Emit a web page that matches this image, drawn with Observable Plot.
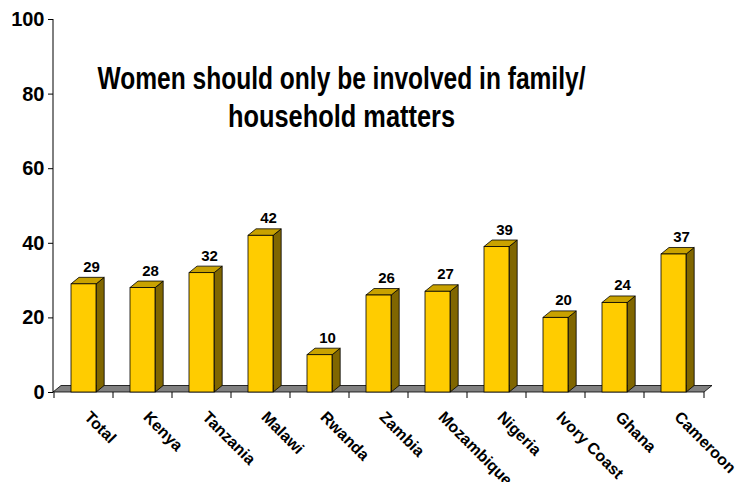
<!DOCTYPE html>
<html>
<head>
<meta charset="utf-8">
<script src="https://cdn.jsdelivr.net/npm/d3@7"></script>
<script src="https://cdn.jsdelivr.net/npm/@observablehq/plot@0.6"></script>
<style>
  html, body { margin: 0; padding: 0; background: #fff; }
  #chart { width: 749px; height: 482px; }
</style>
</head>
<body>
<div id="chart"></div>
<script>
const categories = ["Total", "Kenya", "Tanzania", "Malawi", "Rwanda", "Zambia", "Mozambique", "Nigeria", "Ivory Coast", "Ghana", "Cameroon"];
const values = [29, 28, 32, 42, 10, 26, 27, 39, 20, 24, 37];
const yTicks = [0, 20, 40, 60, 80, 100];
const titleLines = ["Women should only be involved in family/", "household matters"];

const data = categories.map((c, i) => ({cat: c, v: values[i]}));

const W = 749, H = 482;
const mL = 53, mR = 45, mT = 19, mB = 90;
const inset = 17;      // gap between band edge and bar front
const depthX = 8, depthY = 6.5;
const FRONT = "#FFCC00", SIDE = "#806600", TOP = "#C9A200", FLOOR = "#808080";

function poly(g, pts, fill) {
  g.append("polygon")
    .attr("points", pts.map(p => p.join(",")).join(" "))
    .attr("fill", fill)
    .attr("stroke", "#000")
    .attr("stroke-width", 0.8)
    .attr("stroke-linejoin", "round");
}

const chart = Plot.plot({
  width: W,
  height: H,
  marginLeft: mL,
  marginRight: mR,
  marginTop: mT,
  marginBottom: mB,
  style: {fontFamily: "'Liberation Sans', Arial, sans-serif", color: "#000", background: "#fff"},
  x: {type: "band", domain: categories, padding: 0, axis: null},
  y: {domain: [0, 100], axis: null},
  marks: [
    // floor, x-axis ticks at band boundaries, y axis line
    Plot.ruleY([0], {
      render(index, scales, vals, dim) {
        const g = d3.create("svg:g");
        const y0 = scales.y(0);
        const xa = dim.marginLeft, xb = dim.width - dim.marginRight;
        poly(g, [[xa, y0], [xb, y0], [xb + depthX, y0 - depthY], [xa + depthX, y0 - depthY]], FLOOR);
        for (let i = 0; i <= categories.length; i++) {
          const x = (i < categories.length ? scales.x(categories[i]) : xb);
          g.append("line").attr("x1", x).attr("x2", x).attr("y1", y0).attr("y2", y0 + 6)
            .attr("stroke", "#000").attr("stroke-width", 1);
        }
        g.append("line").attr("x1", xa).attr("x2", xa)
          .attr("y1", scales.y(100)).attr("y2", y0)
          .attr("stroke", "#000").attr("stroke-width", 1);
        return g.node();
      }
    }),
    // 3D bars: front face drawn by barY, side and top added with the same scales
    Plot.barY(data, {
      x: "cat", y: "v",
      insetLeft: inset, insetRight: inset,
      fill: FRONT, stroke: "#000", strokeWidth: 0.8,
      render(index, scales, vals, dim, ctx, next) {
        const front = next(index, scales, vals, dim, ctx);
        const g = d3.create("svg:g");
        const bw = (dim.width - dim.marginLeft - dim.marginRight) / categories.length;
        const yB = scales.y(0);
        for (const i of index) {
          const d = data[i];
          const x0 = scales.x(d.cat) + inset, x1 = scales.x(d.cat) + bw - inset;
          const yT = scales.y(d.v);
          poly(g, [[x1, yT], [x1 + depthX, yT - depthY], [x1 + depthX, yB - depthY], [x1, yB]], SIDE);
          poly(g, [[x0, yT], [x0 + depthX, yT - depthY], [x1 + depthX, yT - depthY], [x1, yT]], TOP);
        }
        g.node().appendChild(front);
        return g.node();
      }
    }),
    // value labels
    Plot.text(data, {
      x: "cat", y: "v", text: d => String(d.v),
      dx: 7.5, dy: -12.5, lineAnchor: "bottom",
      fontSize: 15, fontWeight: "bold", fill: "#000"
    }),
    // category labels
    Plot.text(categories, {
      x: d => d, y: () => 0, text: d => d,
      rotate: 45, textAnchor: "start", lineAnchor: "middle",
      dx: 3, dy: 22,
      fontSize: 16, fontWeight: "bold", fill: "#000"
    }),
    // y axis
    Plot.axisY({
      ticks: yTicks, tickSize: 5, tickPadding: 4, label: null,
      fontSize: 20, fontWeight: "bold", tickFormat: d => String(d)
    }),
    // title (inside plot area)
    Plot.text([titleLines[0]], {
      frameAnchor: "top", text: d => d, dx: -37.5, dy: 69, lineAnchor: "bottom",
      fontSize: 31, fontWeight: "bold",
      fontFamily: "'Liberation Sans Narrow', 'Arial Narrow', 'Liberation Sans', Arial, sans-serif",
      fill: "#000", className: "title-line1"
    }),
    Plot.text([titleLines[1]], {
      frameAnchor: "top", text: d => d, dx: -37.5, dy: 107.5, lineAnchor: "bottom",
      fontSize: 31, fontWeight: "bold",
      fontFamily: "'Liberation Sans Narrow', 'Arial Narrow', 'Liberation Sans', Arial, sans-serif",
      fill: "#000", className: "title-line2"
    })
  ]
});

// lock title widths to the reference's measured widths
const fit = [[".title-line1 text", 488], [".title-line2 text", 227]];
for (const [sel, len] of fit) {
  chart.querySelectorAll(sel).forEach(t => {
    t.setAttribute("textLength", len);
    t.setAttribute("lengthAdjust", "spacingAndGlyphs");
  });
}

document.getElementById("chart").appendChild(chart);
</script>
</body>
</html>
